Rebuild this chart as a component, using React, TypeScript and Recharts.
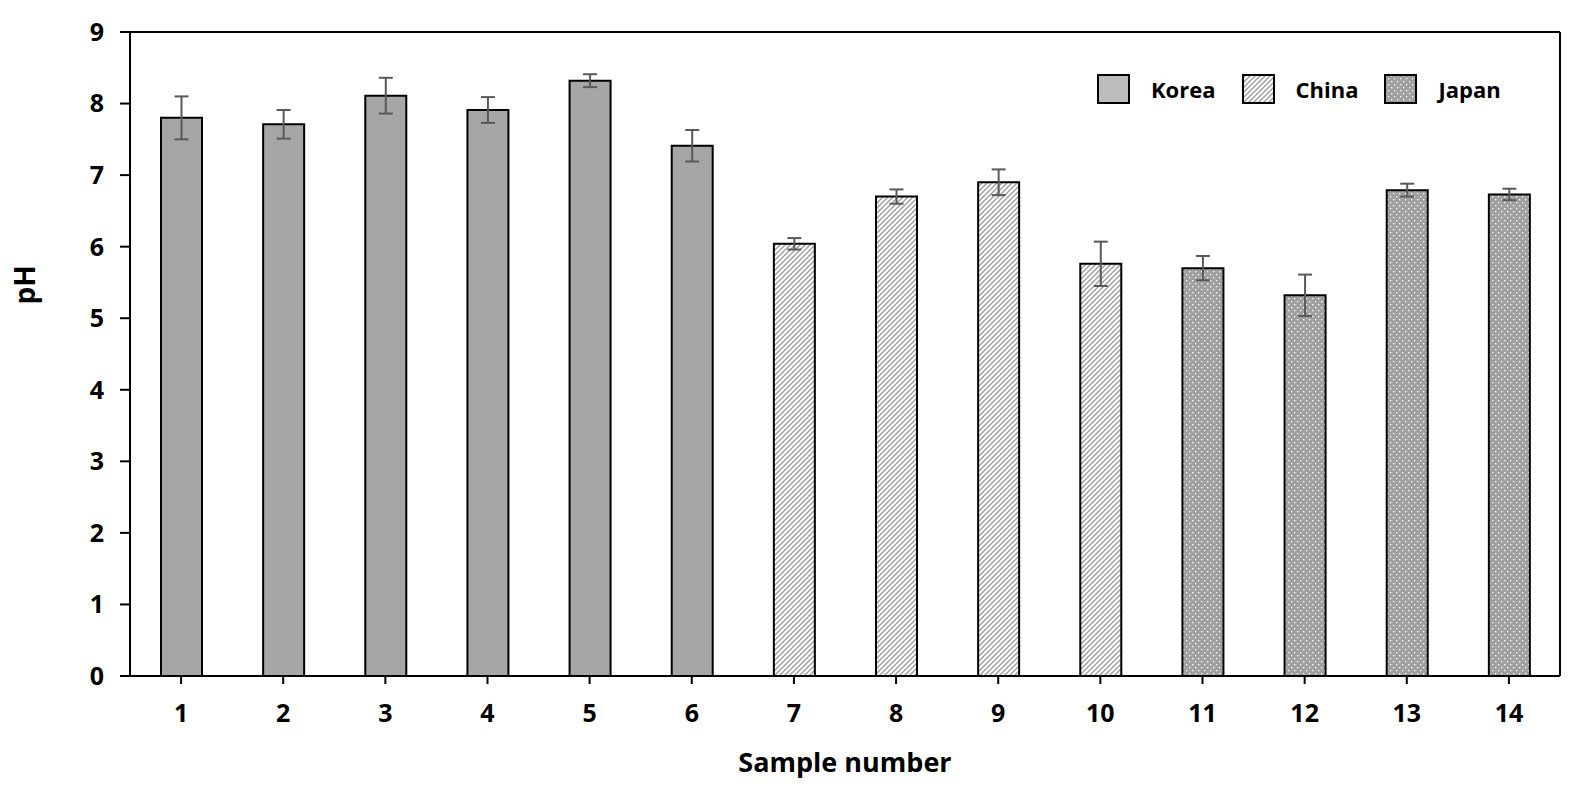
import React from 'react';
import { BarChart, Bar, XAxis, YAxis, ErrorBar, Cell, Legend, ReferenceLine } from 'recharts';

// sample data
const samples = ['1', '2', '3', '4', '5', '6', '7', '8', '9', '10', '11', '12', '13', '14'];
const origins = ['Korea', 'Korea', 'Korea', 'Korea', 'Korea', 'Korea', 'China', 'China', 'China', 'China', 'Japan', 'Japan', 'Japan', 'Japan'];
const phMean = [7.8, 7.71, 8.11, 7.91, 8.32, 7.41, 6.04, 6.7, 6.9, 5.76, 5.7, 5.32, 6.79, 6.73];
const phSd = [0.3, 0.2, 0.25, 0.18, 0.09, 0.22, 0.08, 0.1, 0.18, 0.31, 0.17, 0.29, 0.09, 0.08];
const yTicks = [0, 1, 2, 3, 4, 5, 6, 7, 8, 9];
const countries = ['Korea', 'China', 'Japan'];

const fills: Record<string, string> = {
  Korea: '#a6a6a6',
  China: 'url(#chinaStripes)',
  Japan: 'url(#japanDots)',
};

const FONT = '"Open Sans", sans-serif';

const data = samples.map((s, i) => ({ sample: s, origin: origins[i], ph: phMean[i], sd: phSd[i] }));

const PatternDefs = () => (
  <defs>
    <pattern id="chinaStripes" patternUnits="userSpaceOnUse" width="5" height="5">
      <rect width="5" height="5" fill="#ffffff" />
      <path d="M-1,1 l2,-2 M0,5 l5,-5 M4,6 l2,-2" stroke="#a0a0a0" strokeWidth="1.5" />
    </pattern>
    <pattern id="japanDots" patternUnits="userSpaceOnUse" width="6" height="6">
      <rect width="6" height="6" fill="#a0a0a0" />
      <rect x="1" y="1" width="1.3" height="1.3" fill="#ffffff" />
      <rect x="4" y="4" width="1.3" height="1.3" fill="#ffffff" />
    </pattern>
  </defs>
);

const renderLegend = () => (
  <div style={{ display: 'flex', alignItems: 'center', fontFamily: FONT, fontWeight: 700, fontSize: 22, color: '#000' }}>
    {countries.map((c) => (
      <div key={c} style={{ display: 'flex', alignItems: 'center', marginRight: 26 }}>
        <svg width={33} height={30} style={{ marginRight: 21 }}>
          <PatternDefs />
          <rect x={1} y={1} width={31} height={28} fill={c === 'Korea' ? '#bdbdbd' : fills[c]} stroke="#000" strokeWidth={2} />
        </svg>
        <span>{c}</span>
      </div>
    ))}
  </div>
);

const PhLabel = () => (
  <text x={24} y={285} transform="rotate(-90, 24, 285)" textAnchor="middle" dominantBaseline="central"
    fontFamily={FONT} fontWeight={700} fontSize={28} fill="#000">
    pH
  </text>
);

export default function App() {
  return (
    <div style={{ position: 'absolute', left: 0, top: 0, background: '#fff' }}>
      <BarChart width={1591} height={788} data={data} margin={{ top: 32, right: 31, bottom: 0, left: 0 }}>
        <PatternDefs />
        <XAxis
          dataKey="sample"
          height={112}
          axisLine={{ stroke: '#000', strokeWidth: 2 }}
          tickLine={{ stroke: '#000', strokeWidth: 2 }}
          tickSize={8}
          tickMargin={20}
          tick={{ fill: '#000', fontFamily: FONT, fontWeight: 700, fontSize: 25 }}
          label={{ value: 'Sample number', position: 'insideBottom', offset: 16, fill: '#000', fontFamily: FONT, fontWeight: 700, fontSize: 27 }}
        />
        <YAxis
          width={130}
          domain={[0, 9]}
          ticks={yTicks}
          interval={0}
          axisLine={{ stroke: '#000', strokeWidth: 2 }}
          tickLine={{ stroke: '#000', strokeWidth: 2 }}
          tickSize={10}
          tickMargin={16}
          tick={{ fill: '#000', fontFamily: FONT, fontWeight: 700, fontSize: 25 }}
          label={<PhLabel />}
        />
        <ReferenceLine y={yTicks[yTicks.length - 1]} stroke="#000" strokeWidth={2} />
        <ReferenceLine x={samples[samples.length - 1]} position="end" stroke="#000" strokeWidth={2} />
        <Bar dataKey="ph" barSize={41} stroke="#000" strokeWidth={2} isAnimationActive={false}>
          {data.map((d, i) => (
            <Cell key={`cell-${i}`} fill={fills[d.origin]} />
          ))}
          <ErrorBar dataKey="sd" width={7} stroke="#595959" strokeWidth={2} isAnimationActive={false} />
        </Bar>
        <Legend
          layout="vertical"
          align="center"
          verticalAlign="middle"
          content={renderLegend}
          wrapperStyle={{ position: 'absolute', left: 1097, top: 74, width: 'auto' }}
        />
      </BarChart>
    </div>
  );
}
